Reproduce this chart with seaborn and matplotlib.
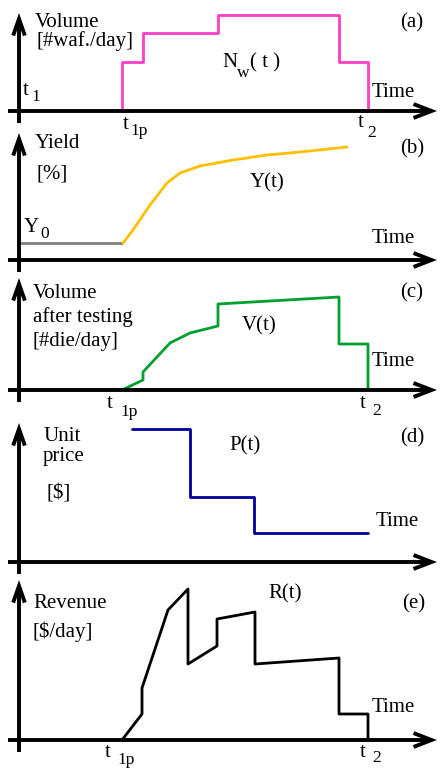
import matplotlib
matplotlib.use("Agg")
import matplotlib.pyplot as plt
import seaborn as sns
import pandas as pd

sns.set_style("white")
plt.rcParams['font.family'] = ['Liberation Serif', 'DejaVu Serif']

# ---- data (time in arbitrary units, values in arbitrary units) ----
t_nw = [10.3, 10.3, 12.4, 12.4, 19.9, 19.9, 32.0, 32.0, 34.9, 34.9]
v_nw = [0.0, 4.9, 4.9, 7.8, 7.8, 9.6, 9.6, 4.9, 4.9, 0.0]

t_y0 = [0.0, 10.3]
v_y0 = [1.7, 1.7]
t_yield = [10.4, 11.4, 13.1, 14.8, 16.1, 18.1, 21.4, 24.8, 28.1, 32.8]
v_yield = [1.7, 3.0, 5.5, 7.7, 8.7, 9.4, 10.0, 10.5, 10.8, 11.3]

t_v = [10.3, 12.4, 12.4, 15.1, 17.1, 19.9, 19.9, 32.0, 32.0, 34.9, 34.9]
v_v = [0.0, 1.0, 1.8, 4.7, 5.7, 6.4, 8.6, 9.3, 4.6, 4.6, 0.0]

t_p = [11.3, 17.1, 17.1, 23.5, 23.5, 34.9]
v_p = [13.3, 13.3, 6.5, 6.5, 2.9, 2.9]

t_r = [10.3, 12.3, 12.3, 14.9, 16.9, 16.9, 19.8, 19.8, 23.6, 23.6, 32.0, 32.0, 34.9, 34.9]
v_r = [0.0, 2.6, 5.2, 13.0, 15.1, 7.6, 9.4, 12.1, 12.8, 7.6, 8.2, 2.6, 2.6, 0.0]

W, H = 441, 768
fig = plt.figure(figsize=(W / 100, H / 100), dpi=100)

# panel bands (pixel top, bottom, baseline, arrow tip)
bands = [
    (0, 130, 111, 13),
    (130, 270, 260, 133),
    (270, 420, 390, 278),
    (420, 570, 562, 423),
    (570, 768, 740, 580),
]
X0 = 19  # pixel x of vertical axis


def make_ax(top, bot, base):
    ax = fig.add_axes([0, (H - bot) / H, 1, (bot - top) / H])
    ax.set_xlim((0 - X0) / 10, (W - X0) / 10)
    ax.set_ylim((base - bot) / 10, (base - top) / 10)
    ax.axis('off')
    return ax


def axes_arrows(ax, base, tip):
    ax.annotate('', xy=((437 - X0) / 10, 0), xytext=((8 - X0) / 10, 0),
                arrowprops=dict(arrowstyle='->,head_length=1.3,head_width=0.5',
                                lw=2.8, color='black', shrinkA=0, shrinkB=0,
                                joinstyle='miter', capstyle='butt'),
                annotation_clip=False)
    ax.annotate('', xy=(0, (base - tip) / 10), xytext=(0, -1.2),
                arrowprops=dict(arrowstyle='->,head_length=1.2,head_width=0.42',
                                lw=2.8, color='black', shrinkA=0, shrinkB=0,
                                joinstyle='miter', capstyle='butt'),
                annotation_clip=False)


def txt(ax, base, px, py, s, size=15):
    ax.text((px - X0) / 10, (base - py) / 10, s, ha='left', va='baseline',
            fontsize=size, color='black')


def line(ax, t, v, color):
    df = pd.DataFrame({'t': t, 'v': v})
    sns.lineplot(data=df, x='t', y='v', ax=ax, color=color, lw=2.0,
                 estimator=None, sort=False, legend=False)
    for l in ax.lines:
        l.set_clip_on(False)
    ax.axis('off')


SUB = 12.5

# (a)
top, bot, base, tip = bands[0]
ax = make_ax(top, bot, base)
axes_arrows(ax, base, tip)
line(ax, t_nw, v_nw, '#ff3fc8')
ax.set_xlim((0 - X0) / 10, (W - X0) / 10); ax.set_ylim((base - bot) / 10, (base - top) / 10)
txt(ax, base, 35, 27, 'Volume')
txt(ax, base, 36, 46, '[#waf./day]')
txt(ax, base, 400, 27, '(a)')
txt(ax, base, 222, 67, 'N')
txt(ax, base, 237, 77, 'w', SUB)
txt(ax, base, 250, 67, '( t )')
txt(ax, base, 372, 97, 'Time')
txt(ax, base, 23, 95, 't')
txt(ax, base, 31, 101, '1', SUB)
txt(ax, base, 123, 129, 't')
txt(ax, base, 130, 135, '1p', SUB)
txt(ax, base, 358, 127, 't')
txt(ax, base, 367, 137, '2', SUB)

# (b)
top, bot, base, tip = bands[1]
ax = make_ax(top, bot, base)
axes_arrows(ax, base, tip)
line(ax, t_y0, v_y0, '#808080')
line(ax, t_yield, v_yield, '#ffc000')
ax.set_xlim((0 - X0) / 10, (W - X0) / 10); ax.set_ylim((base - bot) / 10, (base - top) / 10)
txt(ax, base, 35, 148, 'Yield')
txt(ax, base, 37, 178, '[%]')
txt(ax, base, 400, 153, '(b)')
txt(ax, base, 250, 187, 'Y(t)')
txt(ax, base, 24, 232, 'Y')
txt(ax, base, 40, 238, '0', SUB)
txt(ax, base, 372, 243, 'Time')

# (c)
top, bot, base, tip = bands[2]
ax = make_ax(top, bot, base)
axes_arrows(ax, base, tip)
line(ax, t_v, v_v, '#00a030')
ax.set_xlim((0 - X0) / 10, (W - X0) / 10); ax.set_ylim((base - bot) / 10, (base - top) / 10)
txt(ax, base, 33, 298, 'Volume')
txt(ax, base, 33, 322, 'after testing')
txt(ax, base, 33, 346, '[#die/day]')
txt(ax, base, 400, 297, '(c)')
txt(ax, base, 242, 330, 'V(t)')
txt(ax, base, 372, 366, 'Time')
txt(ax, base, 107, 408, 't')
txt(ax, base, 120, 416, '1p', SUB)
txt(ax, base, 360, 408, 't')
txt(ax, base, 372, 415, '2', SUB)

# (d)
top, bot, base, tip = bands[3]
ax = make_ax(top, bot, base)
axes_arrows(ax, base, tip)
line(ax, t_p, v_p, '#000099')
ax.set_xlim((0 - X0) / 10, (W - X0) / 10); ax.set_ylim((base - bot) / 10, (base - top) / 10)
txt(ax, base, 43, 441, 'Unit')
txt(ax, base, 43, 461, 'price')
txt(ax, base, 46, 499, '[$]')
txt(ax, base, 400, 442, '(d)')
txt(ax, base, 229, 450, 'P(t)')
txt(ax, base, 376, 526, 'Time')

# (e)
top, bot, base, tip = bands[4]
ax = make_ax(top, bot, base)
axes_arrows(ax, base, tip)
line(ax, t_r, v_r, 'black')
ax.set_xlim((0 - X0) / 10, (W - X0) / 10); ax.set_ylim((base - bot) / 10, (base - top) / 10)
txt(ax, base, 33, 608, 'Revenue')
txt(ax, base, 33, 637, '[$/day]')
txt(ax, base, 268, 598, 'R(t)')
txt(ax, base, 402, 608, '(e)')
txt(ax, base, 372, 712, 'Time')
txt(ax, base, 105, 757, 't')
txt(ax, base, 117, 764, '1p', SUB)
txt(ax, base, 360, 757, 't')
txt(ax, base, 372, 762, '2', SUB)

fig.savefig('out.png', dpi=100, facecolor='white')
